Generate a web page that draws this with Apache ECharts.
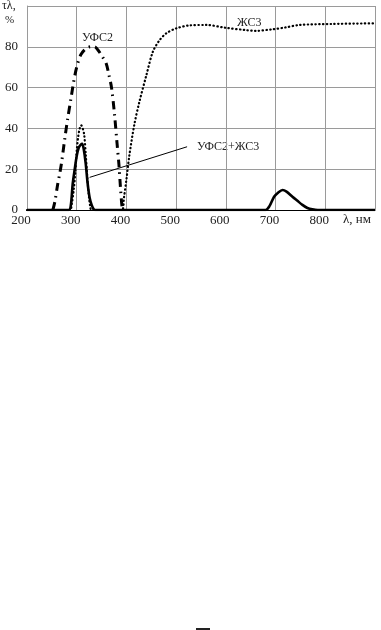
<!DOCTYPE html>
<html>
<head>
<meta charset="utf-8">
<script src="https://cdn.jsdelivr.net/npm/echarts@6/dist/echarts.min.js"></script>
<style>
html,body{margin:0;padding:0;background:#fff;}
#chart{width:381px;height:630px;}
</style>
</head>
<body>
<div id="chart"></div>
<script>
// УФС2 (dash-dot)
var ufs2X = [252, 256, 262, 266, 270, 276, 282, 288, 294, 300, 308, 318, 328, 336, 344, 352, 359, 365, 370, 376, 381, 385, 388, 391, 393];
var ufs2Y = [0, 4, 13, 18, 24, 35, 45, 54, 63, 70, 76, 79, 80, 80, 78, 75, 72, 66, 60, 47, 33, 22, 11, 2, 0];
// ЖС3 (dotted)
var zhs3X = [200, 286, 290, 294, 297, 300, 303, 306, 309, 312, 315, 318, 321, 324, 327, 330, 391, 395, 400, 406, 416, 426, 440, 453, 466, 480, 500, 527, 560, 600, 640, 660, 694, 720, 748, 814, 900];
var zhs3Y = [0, 0, 3, 10, 18, 29, 36, 40, 41.5, 40, 37, 28, 17, 8, 2, 0, 0, 6, 15, 27, 42, 53, 66, 77.5, 83, 86.6, 89, 90.5, 90.7, 89.3, 88.2, 87.8, 88.6, 89.5, 90.7, 91.2, 91.5];
// УФС2+ЖС3 (solid)
var sumX = [200, 284, 288, 292, 296, 300, 304, 308, 311, 314, 318, 322, 326, 330, 334, 338, 680, 688, 697, 705, 714, 722, 734, 744, 754, 764, 774, 785, 900];
var sumY = [0, 0, 2, 13, 20, 26.5, 30.5, 32, 32.5, 30, 23, 13, 6, 2.5, 0.5, 0, 0, 2, 6.5, 8.5, 9.8, 9, 6.5, 4.5, 2.5, 1, 0.3, 0, 0];
// leader line for the УФС2+ЖС3 label
var leaderX = [326, 522];
var leaderY = [16, 31];
var xTicks = [200, 300, 400, 500, 600, 700, 800];

function pairs(xs, ys) { return xs.map(function (x, i) { return [x, ys[i]]; }); }

var font = '"Liberation Serif", "Times New Roman", serif';
var chart = echarts.init(document.getElementById('chart'));
chart.setOption({
  animation: false,
  backgroundColor: '#fff',
  grid: { left: 27, right: 6, top: 6, bottom: 420, containLabel: false },
  xAxis: {
    type: 'value', min: 200, max: 900, interval: 100,
    axisLine: { show: true, lineStyle: { color: '#000', width: 1 } },
    axisTick: { show: false },
    splitLine: { show: true, lineStyle: { color: '#9a9a9a', width: 1 } },
    axisLabel: {
      margin: 4, fontFamily: font, fontSize: 13, color: '#222', padding: [0, 12, 0, 0],
      formatter: function (v) { return xTicks.indexOf(v) >= 0 ? String(v) : ''; }
    }
  },
  yAxis: {
    type: 'value', min: 0, max: 100, interval: 20,
    axisLine: { show: true, lineStyle: { color: '#9a9a9a', width: 1 } },
    axisTick: { show: false },
    splitLine: { show: true, lineStyle: { color: '#9a9a9a', width: 1 } },
    axisLabel: {
      margin: 9, fontFamily: font, fontSize: 13, color: '#222',
      formatter: function (v) { return v === 100 ? '' : String(v); }
    }
  },
  series: [
    {
      name: 'УФС2', type: 'line', data: pairs(ufs2X, ufs2Y), smooth: 0.3, showSymbol: false,
      lineStyle: { color: '#000', width: 3, type: [8, 5, 1.5, 5], cap: 'butt' }, z: 3
    },
    {
      name: 'ЖС3', type: 'line', data: pairs(zhs3X, zhs3Y), smooth: 0.3, showSymbol: false,
      lineStyle: { color: '#000', width: 2.2, type: [0.4, 3.4], cap: 'round' }, z: 3
    },
    {
      name: 'УФС2+ЖС3', type: 'line', data: pairs(sumX, sumY), smooth: 0.3, showSymbol: false,
      lineStyle: { color: '#000', width: 2.6, type: 'solid' }, z: 4
    },
    {
      name: 'leader', type: 'line', data: pairs(leaderX, leaderY), showSymbol: false,
      lineStyle: { color: '#000', width: 1 }, z: 4
    }
  ],
  graphic: [
    { type: 'text', left: 2, top: 0, style: { text: 'τλ,', font: '12px ' + font, fill: '#222' } },
    { type: 'text', left: 5, top: 15, style: { text: '%', font: '11px ' + font, fill: '#222' } },
    { type: 'text', left: 343, top: 213, style: { text: 'λ, нм', font: '13px ' + font, fill: '#222' } },
    { type: 'text', left: 82, top: 32, style: { text: 'УФС2', font: '12px ' + font, fill: '#222' } },
    { type: 'text', left: 237, top: 17, style: { text: 'ЖС3', font: '12px ' + font, fill: '#222' } },
    { type: 'text', left: 197, top: 141, style: { text: 'УФС2+ЖС3', font: '12px ' + font, fill: '#222' } },
    { type: 'rect', shape: { x: 196, y: 628, width: 14, height: 2 }, style: { fill: '#222' } }
  ]
});
</script>
</body>
</html>
